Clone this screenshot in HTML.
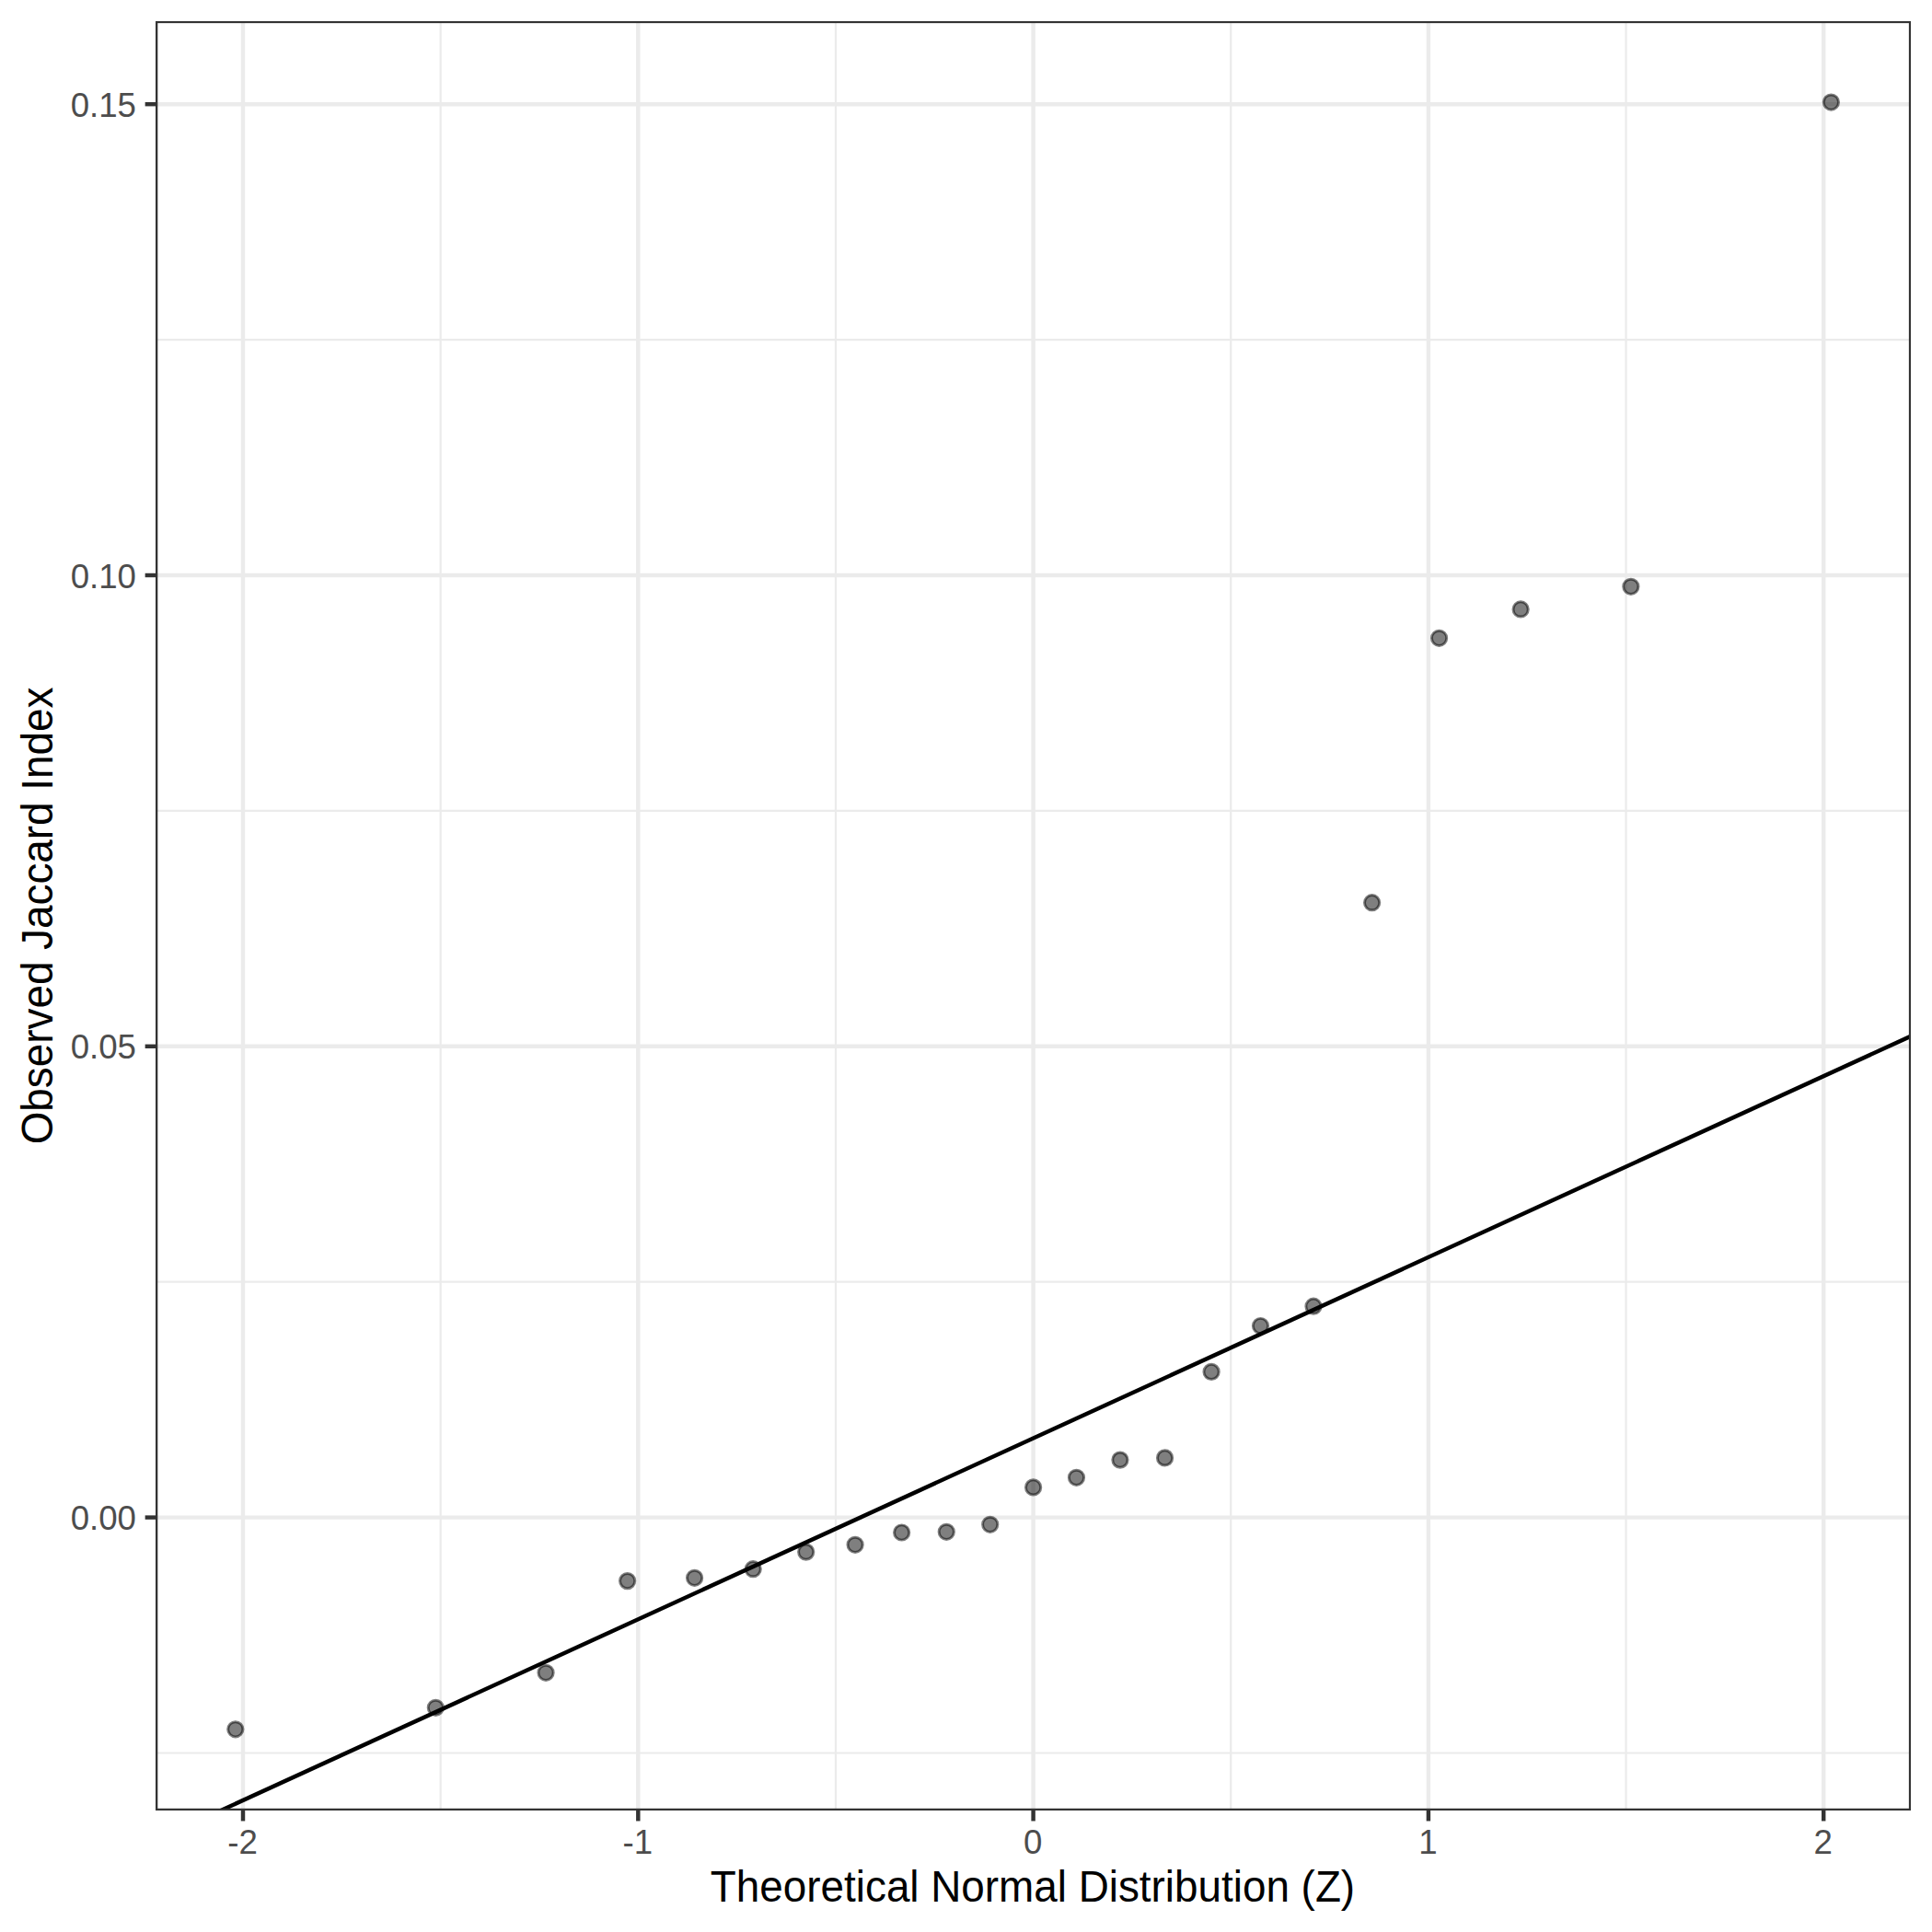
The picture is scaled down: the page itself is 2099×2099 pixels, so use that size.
<!DOCTYPE html>
<html><head><meta charset="utf-8"><title>QQ plot</title>
<style>html,body{margin:0;padding:0;background:#fff}svg{display:block}</style></head>
<body>
<svg width="2099" height="2099" viewBox="0 0 2099 2099">
<rect x="0" y="0" width="2099" height="2099" fill="#ffffff"/>
<defs><clipPath id="panel"><rect x="169.1" y="22.9" width="1907.0" height="1944.1"/></clipPath></defs>
<g clip-path="url(#panel)">
<line x1="169.1" x2="2076.1" y1="1904.50" y2="1904.50" stroke="#ebebeb" stroke-width="2.22"/>
<line x1="169.1" x2="2076.1" y1="1392.70" y2="1392.70" stroke="#ebebeb" stroke-width="2.22"/>
<line x1="169.1" x2="2076.1" y1="880.90" y2="880.90" stroke="#ebebeb" stroke-width="2.22"/>
<line x1="169.1" x2="2076.1" y1="369.10" y2="369.10" stroke="#ebebeb" stroke-width="2.22"/>
<line y1="22.9" y2="1967.0" x1="478.65" x2="478.65" stroke="#ebebeb" stroke-width="2.22"/>
<line y1="22.9" y2="1967.0" x1="907.95" x2="907.95" stroke="#ebebeb" stroke-width="2.22"/>
<line y1="22.9" y2="1967.0" x1="1337.25" x2="1337.25" stroke="#ebebeb" stroke-width="2.22"/>
<line y1="22.9" y2="1967.0" x1="1766.55" x2="1766.55" stroke="#ebebeb" stroke-width="2.22"/>
<line x1="169.1" x2="2076.1" y1="1648.60" y2="1648.60" stroke="#ebebeb" stroke-width="4.45"/>
<line x1="169.1" x2="2076.1" y1="1136.80" y2="1136.80" stroke="#ebebeb" stroke-width="4.45"/>
<line x1="169.1" x2="2076.1" y1="625.00" y2="625.00" stroke="#ebebeb" stroke-width="4.45"/>
<line x1="169.1" x2="2076.1" y1="113.20" y2="113.20" stroke="#ebebeb" stroke-width="4.45"/>
<line y1="22.9" y2="1967.0" x1="264.00" x2="264.00" stroke="#ebebeb" stroke-width="4.45"/>
<line y1="22.9" y2="1967.0" x1="693.30" x2="693.30" stroke="#ebebeb" stroke-width="4.45"/>
<line y1="22.9" y2="1967.0" x1="1122.60" x2="1122.60" stroke="#ebebeb" stroke-width="4.45"/>
<line y1="22.9" y2="1967.0" x1="1551.90" x2="1551.90" stroke="#ebebeb" stroke-width="4.45"/>
<line y1="22.9" y2="1967.0" x1="1981.20" x2="1981.20" stroke="#ebebeb" stroke-width="4.45"/>
<circle cx="255.81" cy="1878.80" r="8.14" fill="#000" fill-opacity="0.5" stroke="#000" stroke-opacity="0.5" stroke-width="2.95"/>
<circle cx="473.33" cy="1855.30" r="8.14" fill="#000" fill-opacity="0.5" stroke="#000" stroke-opacity="0.5" stroke-width="2.95"/>
<circle cx="593.06" cy="1817.30" r="8.14" fill="#000" fill-opacity="0.5" stroke="#000" stroke-opacity="0.5" stroke-width="2.95"/>
<circle cx="681.64" cy="1717.60" r="8.14" fill="#000" fill-opacity="0.5" stroke="#000" stroke-opacity="0.5" stroke-width="2.95"/>
<circle cx="754.58" cy="1714.30" r="8.14" fill="#000" fill-opacity="0.5" stroke="#000" stroke-opacity="0.5" stroke-width="2.95"/>
<circle cx="818.18" cy="1704.70" r="8.14" fill="#000" fill-opacity="0.5" stroke="#000" stroke-opacity="0.5" stroke-width="2.95"/>
<circle cx="875.71" cy="1686.10" r="8.14" fill="#000" fill-opacity="0.5" stroke="#000" stroke-opacity="0.5" stroke-width="2.95"/>
<circle cx="929.10" cy="1678.30" r="8.14" fill="#000" fill-opacity="0.5" stroke="#000" stroke-opacity="0.5" stroke-width="2.95"/>
<circle cx="979.64" cy="1665.00" r="8.14" fill="#000" fill-opacity="0.5" stroke="#000" stroke-opacity="0.5" stroke-width="2.95"/>
<circle cx="1028.27" cy="1664.30" r="8.14" fill="#000" fill-opacity="0.5" stroke="#000" stroke-opacity="0.5" stroke-width="2.95"/>
<circle cx="1075.72" cy="1656.30" r="8.14" fill="#000" fill-opacity="0.5" stroke="#000" stroke-opacity="0.5" stroke-width="2.95"/>
<circle cx="1122.60" cy="1615.90" r="8.14" fill="#000" fill-opacity="0.5" stroke="#000" stroke-opacity="0.5" stroke-width="2.95"/>
<circle cx="1169.48" cy="1605.30" r="8.14" fill="#000" fill-opacity="0.5" stroke="#000" stroke-opacity="0.5" stroke-width="2.95"/>
<circle cx="1216.93" cy="1586.10" r="8.14" fill="#000" fill-opacity="0.5" stroke="#000" stroke-opacity="0.5" stroke-width="2.95"/>
<circle cx="1265.56" cy="1583.90" r="8.14" fill="#000" fill-opacity="0.5" stroke="#000" stroke-opacity="0.5" stroke-width="2.95"/>
<circle cx="1316.10" cy="1490.40" r="8.14" fill="#000" fill-opacity="0.5" stroke="#000" stroke-opacity="0.5" stroke-width="2.95"/>
<circle cx="1369.49" cy="1440.50" r="8.14" fill="#000" fill-opacity="0.5" stroke="#000" stroke-opacity="0.5" stroke-width="2.95"/>
<circle cx="1427.02" cy="1419.20" r="8.14" fill="#000" fill-opacity="0.5" stroke="#000" stroke-opacity="0.5" stroke-width="2.95"/>
<circle cx="1490.62" cy="980.70" r="8.14" fill="#000" fill-opacity="0.5" stroke="#000" stroke-opacity="0.5" stroke-width="2.95"/>
<circle cx="1563.56" cy="693.30" r="8.14" fill="#000" fill-opacity="0.5" stroke="#000" stroke-opacity="0.5" stroke-width="2.95"/>
<circle cx="1652.14" cy="661.95" r="8.14" fill="#000" fill-opacity="0.5" stroke="#000" stroke-opacity="0.5" stroke-width="2.95"/>
<circle cx="1771.87" cy="637.30" r="8.14" fill="#000" fill-opacity="0.5" stroke="#000" stroke-opacity="0.5" stroke-width="2.95"/>
<circle cx="1989.39" cy="111.05" r="8.14" fill="#000" fill-opacity="0.5" stroke="#000" stroke-opacity="0.5" stroke-width="2.95"/>
<line x1="149.1" y1="2008.62" x2="2096.1" y2="1116.51" stroke="#000" stroke-width="4.45"/>
<rect x="169.1" y="22.9" width="1907.0" height="1944.1" fill="none" stroke="#333333" stroke-width="4.45"/>
</g>
<line x1="157.64" x2="169.1" y1="1648.60" y2="1648.60" stroke="#333333" stroke-width="4.45"/>
<line x1="157.64" x2="169.1" y1="1136.80" y2="1136.80" stroke="#333333" stroke-width="4.45"/>
<line x1="157.64" x2="169.1" y1="625.00" y2="625.00" stroke="#333333" stroke-width="4.45"/>
<line x1="157.64" x2="169.1" y1="113.20" y2="113.20" stroke="#333333" stroke-width="4.45"/>
<line y1="1967.0" y2="1978.46" x1="264.00" x2="264.00" stroke="#333333" stroke-width="4.45"/>
<line y1="1967.0" y2="1978.46" x1="693.30" x2="693.30" stroke="#333333" stroke-width="4.45"/>
<line y1="1967.0" y2="1978.46" x1="1122.60" x2="1122.60" stroke="#333333" stroke-width="4.45"/>
<line y1="1967.0" y2="1978.46" x1="1551.90" x2="1551.90" stroke="#333333" stroke-width="4.45"/>
<line y1="1967.0" y2="1978.46" x1="1981.20" x2="1981.20" stroke="#333333" stroke-width="4.45"/>
<g font-family="'Liberation Sans', Arial, Helvetica, sans-serif" font-size="36.67" fill="#4d4d4d">
<text x="147.97" y="1662.10" text-anchor="end">0.00</text>
<text x="147.97" y="1150.30" text-anchor="end">0.05</text>
<text x="147.97" y="638.50" text-anchor="end">0.10</text>
<text x="147.97" y="126.70" text-anchor="end">0.15</text>
<text x="263.60" y="2013.8" text-anchor="middle">-2</text>
<text x="692.90" y="2013.8" text-anchor="middle">-1</text>
<text x="1122.20" y="2013.8" text-anchor="middle">0</text>
<text x="1551.50" y="2013.8" text-anchor="middle">1</text>
<text x="1980.80" y="2013.8" text-anchor="middle">2</text>
</g>
<g font-family="'Liberation Sans', Arial, Helvetica, sans-serif" font-size="45.83" fill="#000">
<text transform="translate(1122.00,2066.4) scale(1,1.03)" text-anchor="middle">Theoretical Normal Distribution (Z)</text>
<text transform="translate(56.6,994.95) rotate(-90) scale(1,1.03)" text-anchor="middle">Observed Jaccard Index</text>
</g>
</svg>
</body></html>
